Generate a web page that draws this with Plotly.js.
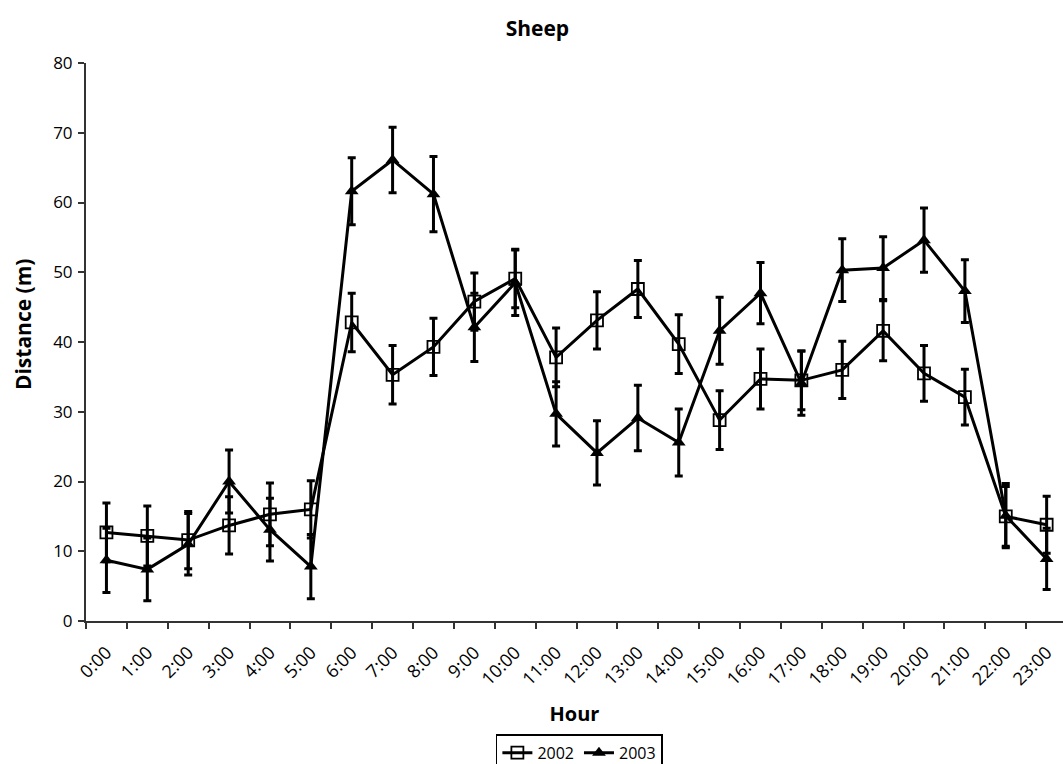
<!DOCTYPE html>
<html>
<head>
<meta charset="utf-8">
<script src="https://cdn.plot.ly/plotly-3.0.1.min.js"></script>
<style>html,body{margin:0;padding:0;overflow:hidden;background:#fff;}</style>
</head>
<body>
<div id="chart" style="width:1063px;height:764px;"></div>
<script>
const hours = ["0:00","1:00","2:00","3:00","4:00","5:00","6:00","7:00","8:00","9:00","10:00","11:00","12:00","13:00","14:00","15:00","16:00","17:00","18:00","19:00","20:00","21:00","22:00","23:00"];
const dist2002 = [12.7,12.2,11.6,13.7,15.3,16.0,42.8,35.3,39.3,45.8,49.1,37.8,43.1,47.6,39.7,28.8,34.7,34.5,36.0,41.6,35.5,32.1,15.0,13.8];
const err2002  = [4.2,4.3,4.1,4.1,4.5,4.1,4.2,4.2,4.1,4.1,4.2,4.2,4.1,4.1,4.2,4.2,4.3,4.2,4.1,4.3,4.0,4.0,4.3,4.1];
const dist2003 = [8.7,7.4,11.0,20.0,13.1,7.8,61.6,66.1,61.2,42.1,48.5,29.7,24.1,29.1,25.6,41.6,47.0,34.1,50.3,50.6,54.6,47.3,15.1,8.9];
const err2003  = [4.6,4.5,4.4,4.5,4.5,4.6,4.8,4.7,5.4,4.9,4.7,4.6,4.6,4.7,4.8,4.8,4.4,4.6,4.5,4.5,4.6,4.5,4.6,4.4];
const yTitle = "Distance (m)";
const xTitle = "Hour";
const chartTitle = "Sheep";

const FONT = "'Open Sans', Lato, sans-serif";

const traces = [
  {
    x: hours, y: dist2002, name: "2002", type: "scatter", mode: "lines+markers",
    line: {color: "#000", width: 3},
    marker: {symbol: "square-open", size: 12, color: "#000", line: {width: 1.8, color: "#000"}},
    error_y: {type: "data", array: err2002, visible: true, color: "#000", thickness: 3, width: 4}
  },
  {
    x: hours, y: dist2003, name: "2003", type: "scatter", mode: "lines+markers",
    line: {color: "#000", width: 3},
    marker: {symbol: "triangle-up", size: 12, color: "#000"},
    error_y: {type: "data", array: err2003, visible: true, color: "#000", thickness: 3, width: 4}
  }
];

const layout = {
  width: 1063, height: 764,
  margin: {l: 86, r: 0, t: 63, b: 143, autoexpand: false},
  paper_bgcolor: "#fff", plot_bgcolor: "#fff",
  font: {family: FONT, size: 16, color: "#000"},
  title: {text: "<b>" + chartTitle + "</b>", x: 0.462, xref: "paper", xanchor: "center", y: 0.963, yanchor: "middle", font: {family: FONT, size: 21, color: "#000"}},
  showlegend: true,
  legend: {
    orientation: "h", x: 0.505, xanchor: "center", y: -0.203, yanchor: "top",
    bordercolor: "#000", borderwidth: 1.5, font: {family: FONT, size: 16, color: "#000"},
    itemwidth: 30, tracegroupgap: 0
  },
  annotations: [
    {text: "<b>" + yTitle + "</b>", xref: "paper", yref: "paper", x: -0.065, y: 0.533,
     xanchor: "center", yanchor: "middle", textangle: -90, showarrow: false,
     font: {family: FONT, size: 21, color: "#000"}}
  ],
  xaxis: {
    type: "category", range: [-0.5, 23.4],
    showline: true, linecolor: "#333", linewidth: 2,
    ticks: "outside", tickson: "boundaries", ticklen: 6, tickwidth: 2, tickcolor: "#333",
    tickangle: -45, showgrid: false, zeroline: false, ticklabelstandoff: 12,
    tickfont: {family: FONT, size: 18, color: "#000"},
    title: {text: "<b>" + xTitle + "</b>", standoff: 18, font: {family: FONT, size: 20, color: "#000"}}
  },
  yaxis: {
    range: [0, 80], dtick: 10,
    showline: true, linecolor: "#333", linewidth: 2,
    ticks: "outside", ticklen: 6, tickwidth: 2, tickcolor: "#333",
    showgrid: false, zeroline: false, ticklabelstandoff: 2,
    tickfont: {family: FONT, size: 17, color: "#000"}
  }
};

Plotly.newPlot("chart", traces, layout, {displayModeBar: false, staticPlot: true});
</script>
</body>
</html>
